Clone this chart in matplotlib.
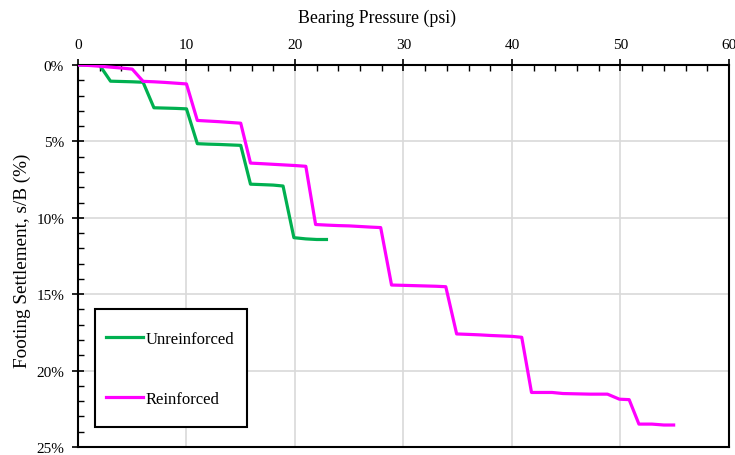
import matplotlib
matplotlib.use('Agg')
import matplotlib.pyplot as plt
from matplotlib.patches import Rectangle
from matplotlib.ticker import MultipleLocator, PercentFormatter

plt.rcParams['font.family'] = ['Liberation Serif', 'DejaVu Serif']

# Bearing pressure (psi) and settlement s/B (%)
unreinf_p = [0, 1, 2, 3, 4, 5, 6, 7, 8, 9, 10, 11, 12, 13, 14, 15, 15.9, 17, 18, 18.9, 19.9, 21, 22, 22.9]
unreinf_s = [0, 0, 0.02, 1.06, 1.08, 1.1, 1.13, 2.8, 2.82, 2.84, 2.87, 5.15, 5.18, 5.2, 5.23, 5.26,
             7.8, 7.83, 7.86, 7.92, 11.3, 11.38, 11.42, 11.42]

reinf_p = [0, 1, 2, 3, 4, 5, 6, 7, 8, 9, 10, 11, 12, 13, 14, 15, 15.9, 17, 18, 19, 20, 21,
           21.9, 23, 24, 25, 26, 27, 27.9, 28.9, 30, 31, 32, 33, 33.9, 34.9, 36, 37, 38, 39, 40, 40.9,
           41.8, 43.7, 44.7, 47.2, 48.8, 49.9, 50.8, 51.7, 52.9, 54.0, 54.9]
reinf_s = [0, 0.03, 0.08, 0.14, 0.2, 0.27, 1.07, 1.1, 1.14, 1.19, 1.24, 3.63, 3.67, 3.71, 3.76, 3.81,
           6.42, 6.46, 6.5, 6.54, 6.58, 6.63, 10.44, 10.48, 10.51, 10.53, 10.57, 10.61, 10.64,
           14.4, 14.42, 14.44, 14.46, 14.48, 14.51, 17.6, 17.63, 17.66, 17.7, 17.73, 17.76, 17.82,
           21.43, 21.43, 21.5, 21.54, 21.54, 21.87, 21.9, 23.5, 23.5, 23.56, 23.56]

fig = plt.figure(figsize=(7.35, 4.56), dpi=100)
ax = fig.add_axes([0.1061, 0.0175, 0.8857, 0.8378])

ax.plot(unreinf_p, unreinf_s, color='#00B050', lw=2.3, label='Unreinforced', zorder=3)
ax.plot(reinf_p, reinf_s, color='#FF00FF', lw=2.3, label='Reinforced', zorder=3)

ax.set_xlim(0, 60)
ax.set_ylim(25, 0)
ax.xaxis.tick_top()
ax.xaxis.set_label_position('top')
ax.xaxis.set_major_locator(MultipleLocator(10))
ax.xaxis.set_minor_locator(MultipleLocator(2))
ax.yaxis.set_major_locator(MultipleLocator(5))
ax.yaxis.set_minor_locator(MultipleLocator(1))
ax.yaxis.set_major_formatter(PercentFormatter(decimals=0))

ax.tick_params(which='major', direction='inout', length=8, width=1.2, labelsize=11,
               top=True, bottom=False, pad=6)
ax.tick_params(which='minor', direction='in', length=4, width=1.0, top=True, bottom=False)
ax.grid(True, which='major', color='#d9d9d9', lw=1.2, zorder=0)
for sp in ax.spines.values():
    sp.set_linewidth(1.5)

ax.set_xlabel('Bearing Pressure (psi)', fontsize=12.8)
ax.xaxis.set_label_coords(0.4595, 1.112)
ax.set_ylabel('Footing Settlement, s/B (%)', fontsize=13.8)
ax.yaxis.set_label_coords(-0.072, 0.49)

# legend frame drawn separately so the padding can differ in x and y
ax.add_patch(Rectangle((0.026, 0.052), 0.233, 0.309, transform=ax.transAxes,
                       facecolor='white', edgecolor='black', lw=1.5, zorder=4))
leg = ax.legend(loc='center', bbox_to_anchor=(0.1413, 0.204), frameon=False,
                fontsize=12, handlelength=2.2, handletextpad=0.15, labelspacing=2.62)
leg.set_zorder(5)

fig.savefig('out.png', dpi=100)
